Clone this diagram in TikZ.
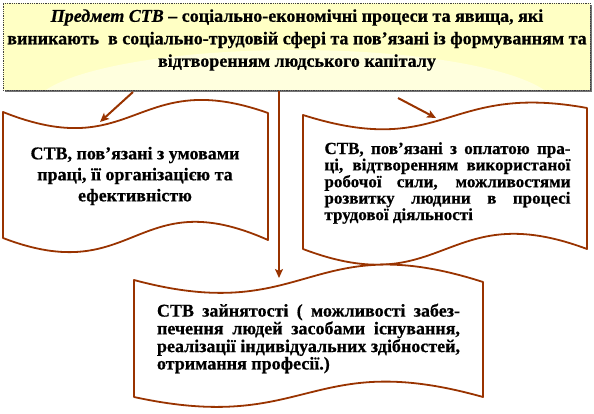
\documentclass[tikz,border=0pt]{standalone}
\usepackage{fontspec}
\setmainfont{Liberation Serif}[BoldFeatures={FakeBold=0.6}, BoldItalicFeatures={FakeBold=0.6}]
\usetikzlibrary{arrows.meta}
\definecolor{brn}{HTML}{993300}
\definecolor{boxyel}{HTML}{FFFFC4}
\definecolor{boxlt}{HTML}{FFFFDE}
\begin{document}
\begin{tikzpicture}[x=1pt,y=-1pt,
  wavebox/.style={draw=brn, line width=1.8pt, fill=white, line join=round},
  conn/.style={draw=brn, line width=2pt, -{Stealth[length=9pt,width=8pt,inset=2pt]}},
  toptext/.style={align=center, inner sep=0pt, font=\bfseries\fontsize{18}{22.5}\selectfont},
  ctext/.style={align=center, inner sep=0pt, font=\bfseries\fontsize{18}{21}\selectfont},
  jtext/.style={align=justify, inner sep=0pt, font=\bfseries\fontsize{18}{15.5}\selectfont}]
\useasboundingbox (0,0) rectangle (594,414);
% top box
\fill[boxyel] (3,3) rectangle (590,90);
\begin{scope}
  \clip (3,3) rectangle (590,90);
  \fill[boxlt] (295,108) ellipse [x radius=262, y radius=58];
\end{scope}
\draw[black!55, line width=1.6pt] (5,91.2) -- (591.2,91.2) -- (591.2,5);
\node (top) [draw=black!75, densely dotted, line width=0.8pt, minimum width=587pt, minimum height=87pt, inner sep=0pt] at (296.5,46.5) {};
\node (toptxt) [toptext] at (297,40)
  {\textit{Предмет СТВ} – соціально-економічні процеси та явища, які\\
   виникають \ в соціально-трудовій сфері та пов’язані із формуванням та\\
   відтворенням людського капіталу};
% left wave
\path[wavebox] (3,112) .. controls (135.5,165) and (135.5,66) .. (268,113)
  -- (268,240) .. controls (135.5,181) and (135.5,289) .. (3,238) -- cycle;
\node (lw) [ctext] at (135,176)
  {СТВ, пов’язані з умовами\\праці, її організацією та\\ефективністю};
% right wave
\path[wavebox] (303,115) .. controls (445,160) and (445,82) .. (587,108)
  -- (587,249) .. controls (445,196) and (445,303) .. (303,249) -- cycle;
\node (rw) [jtext, text width=246pt, font=\bfseries\fontsize{17}{15}\selectfont] at (447.5,183)
  {СТВ, пов’язані з оплатою пра-\linebreak
   ці, відтворенням використаної\linebreak
   робочої сили, можливостями\linebreak
   розвитку людини в процесі\linebreak
   трудової діяльності};
% bottom wave
\path[wavebox] (134,280) .. controls (308.5,327) and (308.5,226) .. (483,282)
  -- (483,397) .. controls (308.5,348) and (308.5,435) .. (134,397) -- cycle;
\node (bw) [jtext, text width=303pt] at (308.5,338.5)
  {СТВ зайнятості ( можливості забез-\linebreak
   печення людей засобами існування,\linebreak
   реалізації індивідуальних здібностей,\linebreak
   отримання професії.)};
% connectors
\coordinate (la1) at (133,92);
\coordinate (la2) at (100,122);
\coordinate (ra1) at (398,98);
\coordinate (ra2) at (436,118);
\coordinate (ca1) at (279,91);
\coordinate (ca2) at (279,278);
\draw[conn] (la1) -- (la2);
\draw[conn] (ra1) -- (ra2);
\draw[conn] (ca1) -- (ca2);
\end{tikzpicture}
\end{document}
